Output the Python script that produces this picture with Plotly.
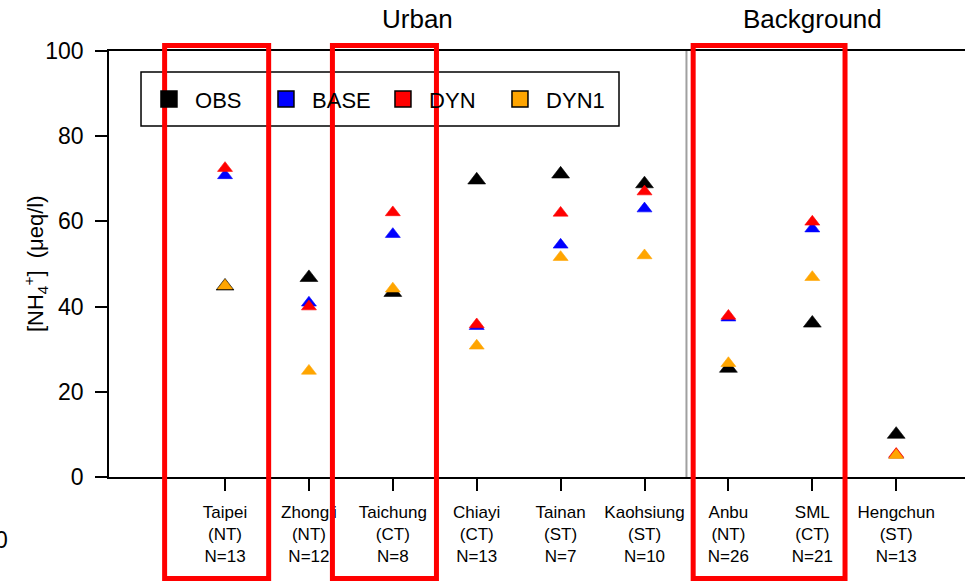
import plotly.graph_objects as go

# ---- data ----
sites = ["Taipei", "Zhongli", "Taichung", "Chiayi", "Tainan", "Kaohsiung", "Anbu", "SML", "Hengchun"]
regions = ["NT", "NT", "CT", "CT", "ST", "ST", "NT", "CT", "ST"]
counts = [13, 12, 8, 13, 7, 10, 26, 21, 13]
positions = [1, 2, 3, 4, 5, 6, 7, 8, 9]

obs = [44.8, 46.8, 43.3, 69.7, 71.1, 68.8, 25.5, 36.1, 10.0]
base = [70.8, 40.9, 57.0, 35.4, 54.5, 63.0, 37.4, 58.3, 5.2]
dyn = [72.5, 40.0, 62.1, 35.8, 62.0, 67.0, 37.8, 59.9, 5.4]
dyn1 = [44.9, 24.9, 44.2, 30.8, 51.6, 52.0, 26.7, 46.9, 5.1]

series_names = ["OBS", "BASE", "DYN", "DYN1"]
series_values = [obs, base, dyn, dyn1]
series_colors = ["black", "#0000ff", "#ff0000", "#ffa500"]
series_sizes = [15.5, 13, 13, 13]

yticks = [0, 20, 40, 60, 80, 100]
tick_labels = [f"{s}<br>({r})<br>N={n}" for s, r, n in zip(sites, regions, counts)]

highlight_groups = [["Taipei"], ["Taichung"], ["Anbu", "SML"]]
background_start = "Anbu"

FONT = "Liberation Sans, Arial, Helvetica, sans-serif"

fig = go.Figure()

for name, vals, col, sz in zip(series_names, series_values, series_colors, series_sizes):
    fig.add_trace(go.Scatter(
        x=positions, y=vals, mode="markers", name=name, showlegend=False,
        marker=dict(symbol="triangle-up", size=sz, color=col,
                    line=dict(width=0.6, color=col)),
        cliponaxis=False,
    ))

# legend entries (square symbols with black outline)
for name, col in zip(series_names, series_colors):
    fig.add_trace(go.Scatter(
        x=[None], y=[None], mode="markers", name="\u00a0" + name, showlegend=True,
        marker=dict(symbol="square", size=16, color=col, line=dict(width=1.5, color="black")),
    ))

pos_of = dict(zip(sites, positions))
shapes = []
# red highlight boxes
offsets = {1: (-0.72, 0.52), 2: (-0.42, 0.39)}
for grp in highlight_groups:
    lo, hi = offsets[len(grp)]
    shapes.append(dict(type="rect", xref="x", yref="paper",
                       x0=pos_of[grp[0]] + lo, x1=pos_of[grp[-1]] + hi,
                       y0=-0.238, y1=1.013,
                       line=dict(color="#ff0000", width=5), layer="above"))
# separator between urban and background
sep = pos_of[background_start] - 0.5
shapes.append(dict(type="line", xref="x", yref="y", x0=sep, x1=sep, y0=0, y1=100,
                   line=dict(color="#a0a0a0", width=2), layer="below"))
# legend frame
shapes.append(dict(type="rect", xref="paper", yref="paper",
                   x0=0.0374, x1=0.5958, y0=0.824, y1=0.9507,
                   line=dict(color="black", width=1.5), fillcolor="rgba(0,0,0,0)", layer="below"))

annotations = [
    dict(text="Urban", xref="paper", yref="paper", x=0.36, y=1.074, showarrow=False,
         font=dict(size=26, color="black", family=FONT), xanchor="center", yanchor="middle"),
    dict(text="Background", xref="paper", yref="paper", x=0.8213, y=1.074, showarrow=False,
         font=dict(size=26, color="black", family=FONT), xanchor="center", yanchor="middle"),
    dict(text="[NH<sub>4</sub><sup>+</sup>]  (μeq/l)", xref="paper", yref="paper", x=-0.0864, y=0.5,
         showarrow=False, textangle=-90, font=dict(size=22, color="black", family=FONT),
         xanchor="center", yanchor="middle"),
    dict(text="0", xref="paper", yref="paper", x=-0.116, y=-0.148, showarrow=False,
         font=dict(size=23, color="black", family=FONT), xanchor="right", yanchor="middle"),
]

fig.update_layout(
    width=965, height=581,
    margin=dict(l=109, r=0, t=51, b=104, pad=0),
    paper_bgcolor="white", plot_bgcolor="white",
    font=dict(family=FONT, color="black"),
    shapes=shapes, annotations=annotations,
    legend=dict(orientation="h", x=0.0467, y=0.887, xanchor="left", yanchor="middle",
                font=dict(size=22, color="black", family=FONT),
                bgcolor="rgba(0,0,0,0)", borderwidth=0,
                entrywidth=72, entrywidthmode="pixels"),
    xaxis=dict(range=[-0.383, 9.82], tickmode="array", tickvals=positions, ticktext=tick_labels,
               showline=True, linecolor="black", linewidth=1.5, mirror=True,
               ticks="outside", ticklen=12, tickwidth=1.5, tickcolor="black",
               showgrid=False, zeroline=False, ticklabelstandoff=7,
               tickfont=dict(size=17, color="black", family=FONT)),
    yaxis=dict(range=[0, 100], tickmode="array", tickvals=yticks,
               showline=True, linecolor="black", linewidth=1.5, mirror=False,
               ticks="outside", ticklen=12, tickwidth=1.5, tickcolor="black",
               showgrid=False, zeroline=False, ticklabelstandoff=7,
               tickfont=dict(size=23, color="black", family=FONT)),
)

fig.write_html("out.html")
